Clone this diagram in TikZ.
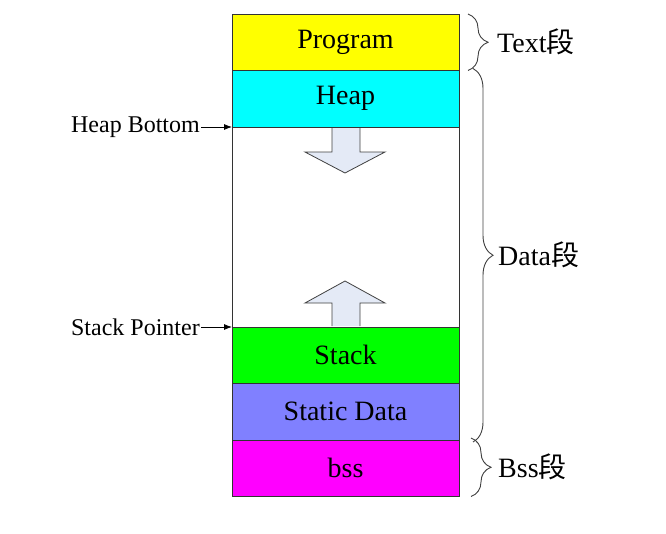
\documentclass[tikz,border=0pt]{standalone}
\usepackage{fontspec}
\setmainfont{Liberation Serif}
\newfontfamily\cjk{Noto Sans CJK SC}
\usetikzlibrary{positioning,decorations.pathreplacing,arrows.meta}
\definecolor{progyellow}{RGB}{255,255,0}
\definecolor{heapcyan}{RGB}{0,255,255}
\definecolor{stackgreen}{RGB}{0,255,0}
\definecolor{staticblue}{RGB}{128,128,255}
\definecolor{bssmagenta}{RGB}{255,0,255}
\definecolor{arrowfill}{RGB}{228,234,246}

\begin{document}
\begin{tikzpicture}[x=1pt,y=-1pt,
    seg/.style={draw=black!80, line width=0.9pt, minimum width=227pt, minimum height=56.5pt,
        inner sep=0pt, outer sep=0pt, font=\fontsize{28}{30}\selectfont},
    blockarrow/.style={draw=black!75, line width=0.8pt, fill=arrowfill},
    pointer/.style={font=\fontsize{24}{26}\selectfont, inner sep=1pt},
    seglabel/.style={font=\fontsize{28}{30}\selectfont, anchor=west, inner sep=0pt},
    segbrace/.style={decorate, decoration={brace, amplitude=20pt}, draw=black!75, line width=0.9pt}]
    \useasboundingbox (0,0) rectangle (666,533);

    % memory column
    \node[seg, fill=progyellow, anchor=north west] (prog) at (232,14) {Program};
    \node[seg, fill=heapcyan, below=0pt of prog] (heap) {Heap};
    \node[seg, minimum height=200pt, below=0pt of heap] (free) {};
    \node[seg, fill=stackgreen, below=0pt of free] (stack) {Stack};
    \node[seg, fill=staticblue, below=0pt of stack] (static) {Static Data};
    \node[seg, fill=bssmagenta, below=0pt of static] (bss) {bss};

    % growth arrows
    \draw[blockarrow] (332,128) -- (332,152) -- (305,152) -- (345,173) -- (385,152) -- (360,152) -- (360,128);
    \draw[blockarrow] (332,326) -- (332,303) -- (305,303) -- (345,281) -- (385,303) -- (360,303) -- (360,326);

    % pointers
    \node[pointer, anchor=east] (hb) at (201,127) {Heap Bottom};
    \node[pointer, anchor=east] (sp) at (201,327) {Stack Pointer};
    \draw[-{Latex[length=8pt,width=6pt]}, line width=0.8pt] (hb) -- (free.north west);
    \draw[-{Latex[length=8pt,width=6pt]}, line width=0.8pt] (sp) -- (free.south west);

    % segment braces
    \draw[segbrace] ([xshift=9pt]prog.north east) -- ([xshift=9pt]prog.south east)
        coordinate[midway, xshift=29pt] (tt);
    \draw[segbrace] ([xshift=14pt,yshift=2pt]heap.north east) -- ([xshift=14pt,yshift=-2pt]static.south east)
        coordinate[midway, xshift=25pt] (dt);
    \draw[segbrace] ([xshift=12pt,yshift=2pt]bss.north east) -- ([xshift=12pt]bss.south east)
        coordinate[midway, xshift=27pt] (bt);
    \node[seglabel] (txt) at (tt) {Text{\cjk 段}};
    \node[seglabel] (dat) at (dt) {Data{\cjk 段}};
    \node[seglabel] (bsl) at (bt) {Bss{\cjk 段}};
\end{tikzpicture}
\end{document}
